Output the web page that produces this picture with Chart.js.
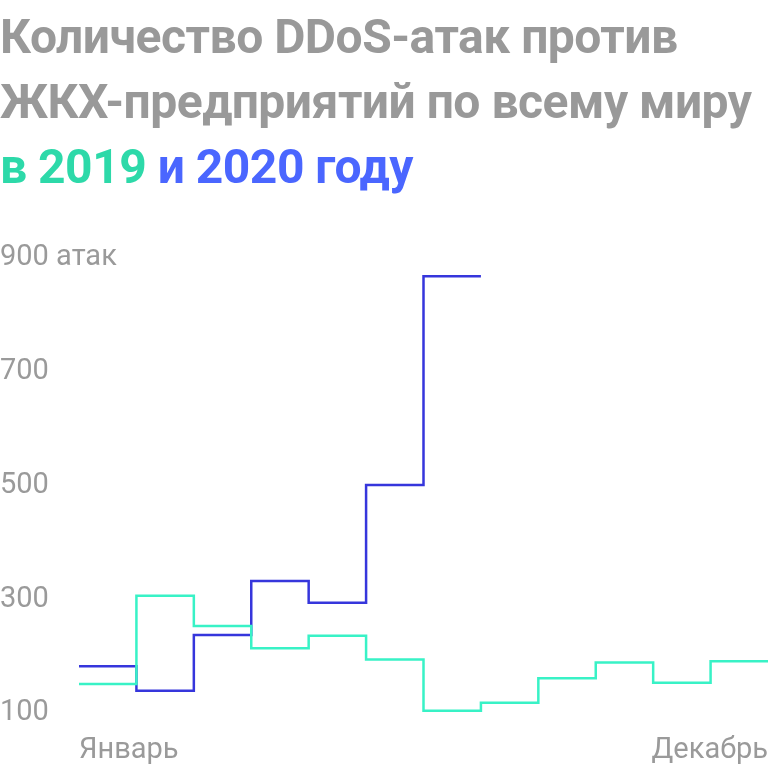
<!DOCTYPE html>
<html>
<head>
<meta charset="utf-8">
<script src="https://cdn.jsdelivr.net/npm/chart.js@4"></script>
<style>
  html, body { margin: 0; padding: 0; background: #fff; }
  #wrap { position: relative; width: 768px; height: 768px; overflow: hidden; }
  #title {
    position: absolute; left: 0; top: 4px; z-index: 2;
    font-family: Roboto, sans-serif; font-weight: 700;
    font-size: 48px; line-height: 65px; color: #999999;
    letter-spacing: -0.5px; white-space: nowrap;
  }
  .y19 { color: #2dd9a9; }
  .y20 { color: #4a66ff; }
  canvas { position: absolute; left: 0; top: 0; }
</style>
</head>
<body>
<div id="wrap">
  <div id="title">Количество DDoS-атак против<br>ЖКХ-предприятий по всему миру<br><span class="y19">в 2019</span> <span class="y20">и 2020 году</span></div>
  <canvas id="chart" width="768" height="768"></canvas>
</div>
<script>
// month names (only first and last are shown on the axis)
const months = ['Январь', 'Февраль', 'Март', 'Апрель', 'Май', 'Июнь',
                'Июль', 'Август', 'Сентябрь', 'Октябрь', 'Ноябрь', 'Декабрь'];

// attacks per month
const attacks2019 = [151, 306, 253, 214, 236, 194, 104, 118, 161, 189, 153, 191];
const attacks2020 = [182, 139, 237, 332, 294, 501, 868];

const yTicks = [100, 300, 500, 700, 900];
const yUnit = ' атак';

// each month is a flat step from its start to the start of the next month
function toSteps(values) {
    const pts = values.map((v, i) => ({ x: i, y: v }));
    pts.push({ x: values.length, y: values[values.length - 1] });
    return pts;
}

const tickFont = { family: 'Roboto, sans-serif', size: 29 };
const tickColor = '#9a9a9a';
const axisWidth = 79;

new Chart(document.getElementById('chart'), {
    type: 'line',
    data: {
        datasets: [
            {
                label: '2019',
                data: toSteps(attacks2019),
                borderColor: '#38f2c6',
                borderWidth: 2.5,
                stepped: 'before',
                pointRadius: 0,
                fill: false
            },
            {
                label: '2020',
                data: toSteps(attacks2020),
                borderColor: '#3636dc',
                borderWidth: 2.5,
                stepped: 'before',
                pointRadius: 0,
                fill: false
            }
        ]
    },
    options: {
        responsive: false,
        animation: false,
        layout: { padding: { top: 258, left: 0, right: 0, bottom: 0 } },
        plugins: {
            legend: { display: false },
            tooltip: { enabled: false }
        },
        scales: {
            x: {
                type: 'linear',
                min: 0,
                max: months.length,
                grid: { display: false, drawTicks: true, tickLength: 20 },
                border: { display: false },
                afterBuildTicks: axis => {
                    axis.ticks = [{ value: 0 }, { value: months.length }];
                },
                afterFit: axis => { axis.height = 55; },
                ticks: {
                    autoSkip: false,
                    maxRotation: 0,
                    align: 'inner',
                    padding: 0,
                    font: tickFont,
                    color: tickColor,
                    callback: v => v === 0 ? months[0] : months[months.length - 1]
                }
            },
            y: {
                min: yTicks[0],
                max: yTicks[yTicks.length - 1],
                grid: { display: false, drawTicks: false },
                border: { display: false },
                afterBuildTicks: axis => {
                    axis.ticks = yTicks.map(v => ({ value: v }));
                },
                afterFit: axis => { axis.width = axisWidth; },
                ticks: {
                    mirror: true,
                    padding: -axisWidth,
                    font: tickFont,
                    color: tickColor,
                    callback: v => v === yTicks[yTicks.length - 1] ? v + yUnit : String(v)
                }
            }
        }
    }
});
</script>
</body>
</html>
